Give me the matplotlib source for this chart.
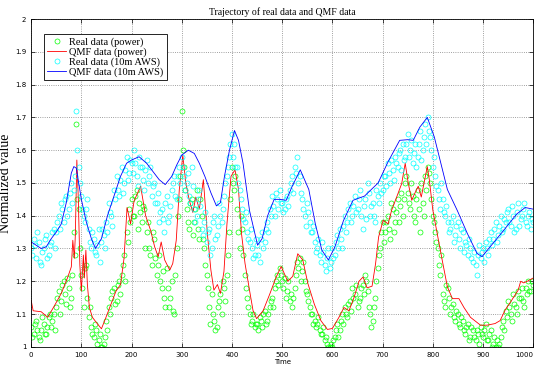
import numpy as np
import matplotlib
matplotlib.use("Agg")
import matplotlib.pyplot as plt

real_t = list(range(0, 1001, 5)) + list(range(2, 1000, 5))
real_power = [
    1.06, 1.04, 1.08, 1.03, 1.05, 1.07, 1.04, 1.09, 1.06, 1.10,
    1.12, 1.17, 1.14, 1.20, 1.13, 1.18, 1.15, 1.35, 1.68, 1.42,
    1.22, 1.12, 1.25, 1.09, 1.06, 1.03, 1.05, 1.02, 1.00, 1.01,
    1.08, 1.12, 1.15, 1.18, 1.14, 1.20, 1.22, 1.28, 1.35, 1.42,
    1.45, 1.40, 1.48, 1.44, 1.38, 1.42, 1.35, 1.30, 1.25, 1.33,
    1.22, 1.28, 1.18, 1.15, 1.24, 1.12, 1.20, 1.10, 1.30, 1.45,
    1.72, 1.55, 1.42, 1.36, 1.45, 1.38, 1.48, 1.33, 1.40, 1.30,
    1.22, 1.12, 1.16, 1.08, 1.06, 1.14, 1.10, 1.18, 1.22, 1.35,
    1.55, 1.48, 1.42, 1.30, 1.36, 1.22, 1.15, 1.10, 1.08, 1.06,
    1.07, 1.09, 1.06, 1.11, 1.08, 1.12, 1.15, 1.18, 1.22, 1.24,
    1.20, 1.21, 1.17, 1.14, 1.12, 1.18, 1.26, 1.27, 1.23, 1.20,
    1.16, 1.12, 1.10, 1.08, 1.07, 1.05, 1.04, 1.02, 1.01, 1.00,
    1.00, 1.03, 1.07, 1.05, 1.10, 1.12, 1.09, 1.14, 1.18, 1.16,
    1.12, 1.15, 1.19, 1.22, 1.17, 1.10, 1.08, 1.15, 1.24, 1.30,
    1.38, 1.35, 1.40, 1.33, 1.42, 1.38, 1.45, 1.43, 1.40, 1.50,
    1.47, 1.42, 1.46, 1.38, 1.48, 1.35, 1.44, 1.52, 1.55, 1.50,
    1.40, 1.35, 1.30, 1.22, 1.16, 1.12, 1.18, 1.10, 1.13, 1.08,
    1.10, 1.06, 1.08, 1.04, 1.07, 1.03, 1.05, 1.02, 1.04, 1.06,
    1.03, 1.07, 1.02, 1.05, 1.01, 1.00, 1.00, 1.03, 1.08, 1.11,
    1.14, 1.10, 1.16, 1.12, 1.17, 1.15, 1.14, 1.18, 1.20, 1.17,
    1.19,
    # t = 2, 7, 12, ...
    1.03, 1.07, 1.05, 1.02, 1.09, 1.04, 1.06, 1.10, 1.08, 1.05,
    1.15, 1.10, 1.19, 1.16, 1.21, 1.12, 1.22, 1.28, 1.45, 1.30,
    1.18, 1.24, 1.15, 1.12, 1.04, 1.07, 1.01, 1.04, 1.00, 1.03,
    1.05, 1.10, 1.17, 1.13, 1.19, 1.16, 1.25, 1.20, 1.32, 1.38,
    1.40, 1.46, 1.36, 1.41, 1.43, 1.30, 1.38, 1.28, 1.35, 1.27,
    1.25, 1.20, 1.23, 1.12, 1.18, 1.15, 1.11, 1.22, 1.40, 1.52,
    1.60, 1.48, 1.38, 1.44, 1.34, 1.42, 1.36, 1.45, 1.33, 1.25,
    1.18, 1.07, 1.10, 1.05, 1.12, 1.16, 1.20, 1.14, 1.28, 1.45,
    1.50, 1.52, 1.35, 1.40, 1.28, 1.18, 1.12, 1.07, 1.10, 1.07,
    1.05, 1.08, 1.10, 1.07, 1.10, 1.14, 1.12, 1.20, 1.19, 1.22,
    1.18, 1.15, 1.20, 1.16, 1.15, 1.22, 1.24, 1.20, 1.26, 1.17,
    1.14, 1.10, 1.07, 1.06, 1.09, 1.04, 1.06, 1.03, 1.00, 1.01,
    1.02, 1.05, 1.03, 1.08, 1.07, 1.10, 1.13, 1.11, 1.15, 1.19,
    1.14, 1.18, 1.16, 1.20, 1.12, 1.06, 1.12, 1.20, 1.28, 1.35,
    1.32, 1.38, 1.36, 1.44, 1.35, 1.41, 1.38, 1.47, 1.45, 1.52,
    1.44, 1.50, 1.40, 1.45, 1.42, 1.50, 1.40, 1.48, 1.53, 1.45,
    1.38, 1.32, 1.25, 1.28, 1.14, 1.19, 1.15, 1.12, 1.09, 1.11,
    1.07, 1.09, 1.05, 1.06, 1.02, 1.06, 1.03, 1.05, 1.01, 1.04,
    1.05, 1.02, 1.04, 1.00, 1.03, 1.02, 1.01, 1.06, 1.05, 1.09,
    1.12, 1.08, 1.13, 1.10, 1.15, 1.18, 1.12, 1.16, 1.17, 1.20,
]
real_aws = [
    1.30, 1.33, 1.27, 1.32, 1.25, 1.30, 1.34, 1.28, 1.32, 1.36,
    1.35, 1.40, 1.44, 1.38, 1.46, 1.42, 1.50, 1.48, 1.72, 1.55,
    1.46, 1.40, 1.42, 1.36, 1.30, 1.33, 1.28, 1.36, 1.32, 1.34,
    1.38, 1.44, 1.40, 1.48, 1.52, 1.46, 1.55, 1.50, 1.58, 1.53,
    1.56, 1.60, 1.52, 1.58, 1.55, 1.48, 1.57, 1.52, 1.46, 1.50,
    1.44, 1.38, 1.42, 1.35, 1.46, 1.40, 1.48, 1.52, 1.45, 1.55,
    1.58, 1.52, 1.50, 1.46, 1.55, 1.42, 1.40, 1.48, 1.36, 1.38,
    1.32, 1.36, 1.30, 1.40, 1.34, 1.44, 1.38, 1.46, 1.52, 1.58,
    1.65, 1.62, 1.55, 1.48, 1.42, 1.38, 1.35, 1.32, 1.30, 1.28,
    1.31, 1.26, 1.35, 1.32, 1.38, 1.42, 1.46, 1.40, 1.45, 1.48,
    1.44, 1.42, 1.46, 1.48, 1.52, 1.55, 1.58, 1.52, 1.45, 1.40,
    1.44, 1.38, 1.35, 1.32, 1.30, 1.28, 1.32, 1.25, 1.27, 1.24,
    1.30, 1.28, 1.34, 1.36, 1.30, 1.40, 1.38, 1.44, 1.40, 1.46,
    1.42, 1.48, 1.36, 1.45, 1.50, 1.40, 1.44, 1.38, 1.46, 1.50,
    1.48, 1.52, 1.56, 1.50, 1.54, 1.58, 1.55, 1.60, 1.62, 1.58,
    1.65, 1.60, 1.56, 1.62, 1.58, 1.66, 1.60, 1.68, 1.70, 1.64,
    1.55, 1.52, 1.48, 1.42, 1.45, 1.40, 1.38, 1.36, 1.40, 1.34,
    1.38, 1.30, 1.35, 1.32, 1.28, 1.30, 1.26, 1.25, 1.28, 1.27,
    1.30, 1.32, 1.28, 1.35, 1.33, 1.38, 1.34, 1.40, 1.36, 1.38,
    1.42, 1.37, 1.40, 1.36, 1.44, 1.39, 1.42, 1.38, 1.40, 1.36,
    1.38,
    # t = 2, 7, 12, ...
    1.28, 1.31, 1.35, 1.26, 1.29, 1.33, 1.27, 1.31, 1.35, 1.30,
    1.38, 1.36, 1.42, 1.45, 1.40, 1.47, 1.44, 1.52, 1.60, 1.50,
    1.42, 1.38, 1.45, 1.32, 1.35, 1.29, 1.31, 1.26, 1.36, 1.30,
    1.35, 1.41, 1.37, 1.45, 1.48, 1.51, 1.47, 1.54, 1.51, 1.57,
    1.53, 1.56, 1.49, 1.55, 1.51, 1.54, 1.50, 1.55, 1.49, 1.44,
    1.47, 1.41, 1.39, 1.44, 1.38, 1.43, 1.50, 1.46, 1.52, 1.50,
    1.55, 1.48, 1.53, 1.44, 1.49, 1.38, 1.45, 1.43, 1.34, 1.41,
    1.35, 1.28, 1.38, 1.33, 1.37, 1.40, 1.42, 1.50, 1.55, 1.62,
    1.58, 1.55, 1.50, 1.45, 1.39, 1.41, 1.33, 1.36, 1.27, 1.33,
    1.28, 1.33, 1.30, 1.36, 1.35, 1.40, 1.43, 1.47, 1.42, 1.44,
    1.41, 1.45, 1.43, 1.50, 1.47, 1.53, 1.50, 1.47, 1.42, 1.37,
    1.41, 1.35, 1.37, 1.29, 1.33, 1.26, 1.29, 1.23, 1.30, 1.26,
    1.27, 1.32, 1.30, 1.33, 1.37, 1.35, 1.42, 1.38, 1.43, 1.41,
    1.45, 1.40, 1.43, 1.39, 1.47, 1.43, 1.40, 1.48, 1.44, 1.47,
    1.52, 1.49, 1.53, 1.57, 1.51, 1.56, 1.59, 1.54, 1.57, 1.62,
    1.58, 1.63, 1.59, 1.55, 1.62, 1.57, 1.64, 1.62, 1.66, 1.60,
    1.58, 1.49, 1.45, 1.50, 1.41, 1.43, 1.35, 1.38, 1.32, 1.37,
    1.33, 1.36, 1.29, 1.31, 1.33, 1.27, 1.29, 1.22, 1.31, 1.29,
    1.26, 1.30, 1.33, 1.31, 1.36, 1.32, 1.37, 1.35, 1.39, 1.41,
    1.38, 1.43, 1.35, 1.41, 1.37, 1.40, 1.44, 1.37, 1.41, 1.39,
]

# QMF curves, read at the turning points
qmf_power_t = [0, 4, 20, 33, 47, 60, 73, 80, 83, 86, 88, 91, 94, 97, 100, 104, 106, 109, 112, 116,
               122, 132, 140, 149, 159, 169, 178, 185, 191, 198, 205, 218, 228, 238, 246, 253, 259, 266, 276, 282,
               289, 295, 302, 308, 315, 322, 328, 335, 343, 351, 358, 364, 371, 377, 384, 390, 398, 406, 413, 419,
               426, 436, 442, 449, 462, 475, 488, 498, 511, 521, 531, 541, 551, 564, 577, 590, 600, 613, 623, 633,
               643, 653, 661, 669, 679, 686, 692, 701, 711, 718, 728, 738, 745, 751, 758, 764, 771, 777, 789, 793,
               800, 810, 820, 829, 839, 852, 862, 875, 895, 908, 924, 934, 944, 957, 970, 975, 981, 988, 1000]
qmf_power = [1.142, 1.11, 1.107, 1.09, 1.127, 1.163, 1.213, 1.244, 1.325, 1.27,
             1.34, 1.57, 1.45, 1.25, 1.17, 1.28, 1.21, 1.295, 1.19, 1.12,
             1.09, 1.07, 1.055, 1.09, 1.13, 1.17, 1.19, 1.27, 1.425, 1.375,
             1.445, 1.49, 1.40, 1.355, 1.305, 1.275, 1.32, 1.265, 1.234, 1.254,
             1.325, 1.478, 1.585, 1.50, 1.447, 1.41, 1.457, 1.42, 1.51, 1.345,
             1.234, 1.173, 1.19, 1.163, 1.23, 1.375, 1.52, 1.54, 1.48, 1.345,
             1.254, 1.163, 1.11, 1.086, 1.11, 1.16, 1.213, 1.245, 1.20, 1.215,
             1.284, 1.265, 1.194, 1.13, 1.08, 1.053, 1.056, 1.09, 1.12, 1.11,
             1.15, 1.20, 1.213, 1.18, 1.185, 1.254, 1.335, 1.386, 1.375, 1.417,
             1.457, 1.498, 1.56, 1.50, 1.447, 1.468, 1.49, 1.457, 1.55, 1.51,
             1.417, 1.335, 1.254, 1.183, 1.147, 1.147, 1.12, 1.09, 1.066, 1.066,
             1.071, 1.08, 1.112, 1.142, 1.173, 1.20, 1.195, 1.20, 1.21]

qmf_aws_t = [0, 10, 20, 30, 40, 50, 60, 70, 80, 85, 90, 100, 110, 120, 128, 140, 152, 165, 178, 190,
             200, 215, 230, 245, 255, 267, 280, 290, 300, 313, 325, 335, 346, 358, 369, 377, 385, 395, 405, 413,
             422, 435, 451, 460, 471, 484, 495, 508, 520, 536, 553, 566, 579, 592, 605, 622, 641, 664, 691, 711,
             734, 750, 761, 774, 789, 803, 816, 829, 849, 869, 888, 898, 914, 941, 967, 984, 1000]
qmf_aws = [1.32, 1.31, 1.30, 1.305, 1.33, 1.35, 1.375, 1.44, 1.53, 1.55,
           1.545, 1.45, 1.38, 1.33, 1.30, 1.33, 1.40, 1.46, 1.52, 1.56,
           1.57, 1.58, 1.56, 1.53, 1.51, 1.495, 1.52, 1.555, 1.585, 1.60,
           1.59, 1.56, 1.52, 1.47, 1.43, 1.44, 1.52, 1.60, 1.66, 1.63,
           1.56, 1.415, 1.31, 1.33, 1.40, 1.45, 1.45, 1.447, 1.49, 1.54,
           1.48, 1.375, 1.295, 1.265, 1.305, 1.385, 1.447, 1.46, 1.50, 1.565,
           1.63, 1.632, 1.63, 1.67, 1.70, 1.64, 1.56, 1.48, 1.415, 1.345,
           1.285, 1.275, 1.305, 1.355, 1.405, 1.425, 1.42]

fig = plt.figure(figsize=(5.37, 3.67), dpi=100)
ax = fig.add_axes([0.058, 0.055, 0.935, 0.893])

ax.plot(real_t, real_power, 'o', mfc='none', mec=(0, 1, 0), ms=3.6, mew=0.5, label='Real data (power)')
ax.plot(qmf_power_t, qmf_power, '-', color=(1, 0, 0), lw=0.6, label='QMF data (power)')
ax.plot(real_t, real_aws, 'o', mfc='none', mec=(0, 1, 1), ms=3.6, mew=0.5, label='Real data (10m AWS)')
ax.plot(qmf_aws_t, qmf_aws, '-', color=(0, 0, 1), lw=0.6, label='QMF data (10m AWS)')

ax.set_xlim(0, 1000)
ax.set_ylim(1, 2)
ax.set_xticks(np.arange(0, 1001, 100))
ax.set_yticks(np.arange(1, 2.01, 0.1))
ax.set_yticklabels(['1', '1.1', '1.2', '1.3', '1.4', '1.5', '1.6', '1.7', '1.8', '1.9', '2'])
ax.tick_params(direction='in', top=True, right=True, labelsize=5, length=3, width=0.5)
ax.get_xticklabels()[-1].set_ha('right')
ax.grid(True, linestyle=':', color='gray', linewidth=0.6)
for s in ax.spines.values():
    s.set_linewidth(0.6)

ax.set_title('Trajectory of real data and QMF data', fontsize=7, family='Liberation Serif', pad=3)
ax.set_xlabel('Time', fontsize=5, labelpad=1)
ax.set_ylabel('Normalized value', fontsize=10, family='Liberation Serif', labelpad=2)

leg = ax.legend(loc='upper left', bbox_to_anchor=(0.026, 0.955), prop={'family': 'Liberation Serif', 'size': 7.5},
                fancybox=False, framealpha=1, edgecolor='black', borderpad=0.3, labelspacing=0.05,
                handlelength=1.8, handletextpad=0.3, borderaxespad=0, numpoints=1)
leg.get_frame().set_linewidth(0.6)

fig.savefig('out.png', dpi=100)
